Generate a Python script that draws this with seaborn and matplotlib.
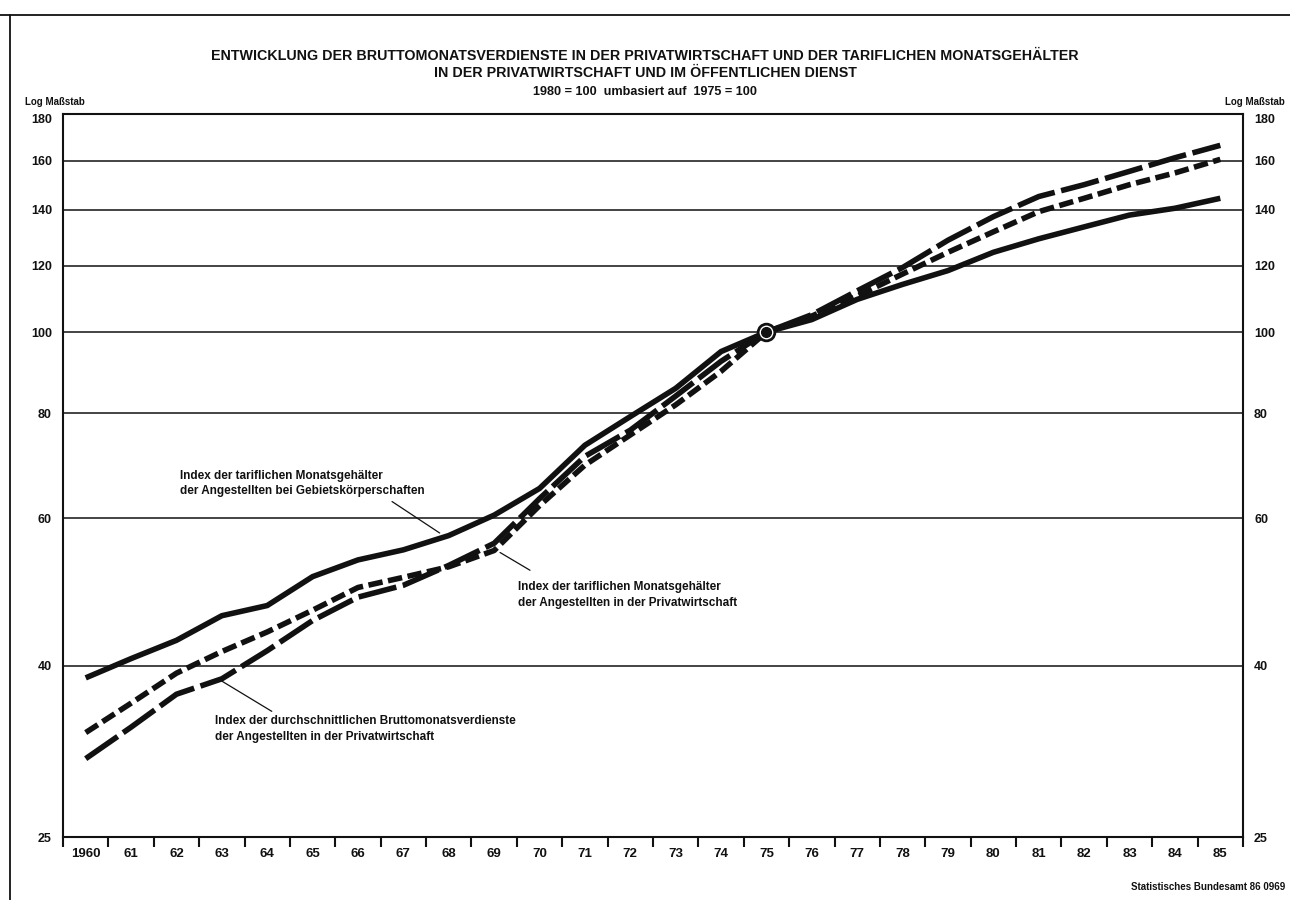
import matplotlib
matplotlib.use("Agg")
import numpy as np
import pandas as pd
import matplotlib.pyplot as plt
import seaborn as sns
from matplotlib.ticker import FixedLocator, NullLocator
from matplotlib.lines import Line2D

# ---- data -------------------------------------------------------------
years = list(range(1960, 1986))
year_labels = ["1960"] + [f"{y % 100:02d}" for y in years[1:]]

# Index der tariflichen Monatsgehälter der Angestellten bei Gebietskörperschaften
gebiet = [38.7, 40.8, 42.9, 45.9, 47.2, 51.1, 53.5, 55.0, 57.2, 60.5,
          65.1, 73.3, 79.3, 85.7, 94.8, 100.0, 103.5, 109.4, 114.0, 118.4,
          124.5, 129.2, 133.5, 137.9, 140.5, 144.4]
# Index der tariflichen Monatsgehälter der Angestellten in der Privatwirtschaft
tarif_privat = [33.3, 36.1, 39.2, 41.6, 43.9, 46.6, 49.6, 51.0, 52.5, 54.9,
                62.1, 69.4, 75.4, 81.9, 89.8, 100.0, 104.5, 110.4, 117.3, 124.5,
                131.7, 139.2, 144.4, 149.9, 154.8, 160.7]
# Index der durchschnittlichen Bruttomonatsverdienste der Angestellten
brutto_privat = [31.0, 33.8, 37.0, 38.6, 41.7, 45.3, 48.3, 49.9, 52.7, 56.0,
                 63.3, 71.1, 76.4, 83.9, 92.3, 100.0, 104.9, 112.0, 119.4, 128.7,
                 137.3, 145.1, 149.9, 155.5, 161.4, 167.0]

y_ticks = [25, 40, 60, 80, 100, 120, 140, 160, 180]
base_year, base_value = 1975, 100

# ---- style ------------------------------------------------------------
sns.set_theme(style="white")
plt.rcParams["font.family"] = ["Liberation Sans", "DejaVu Sans"]
plt.rcParams["font.weight"] = "bold"
INK = "#111111"

df = pd.DataFrame({
    "Jahr": years * 3,
    "Index": gebiet + tarif_privat + brutto_privat,
    "Reihe": ["gebiet"] * len(years) + ["tarif"] * len(years) + ["brutto"] * len(years),
})

fig = plt.figure(figsize=(12.9, 9), dpi=100)
fig.patch.set_facecolor("white")
ax = fig.add_axes([63 / 1290, 1 - 837 / 900, (1243 - 63) / 1290, (837 - 114) / 900])

ax.set_yscale("log")
sns.lineplot(
    data=df, x="Jahr", y="Index", style="Reihe",
    dashes={"gebiet": "", "tarif": (2.6, 1.0), "brutto": (7.0, 1.2)},
    color=INK, linewidth=4.0, legend=False, ax=ax, sort=False,
)
for ln in ax.lines:
    ln.set_dash_capstyle("butt")
    ln.set_solid_capstyle("butt")
    ln.set_zorder(3)

# base point 1975 = 100
ax.plot([base_year], [base_value], marker="o", ms=12, mfc="white",
        mec=INK, mew=2.0, zorder=6, linestyle="none")
ax.plot([base_year], [base_value], marker="o", ms=7, mfc=INK,
        mec=INK, zorder=7, linestyle="none")

# ---- axes -------------------------------------------------------------
ax.set_xlim(1959.5, 1985.5)
ax.set_ylim(25, 182)
ax.yaxis.set_major_locator(FixedLocator(y_ticks))
ax.yaxis.set_minor_locator(NullLocator())
ax.set_yticklabels([str(v) for v in y_ticks])
ax.set_xticks(years)
ax.set_xticklabels(year_labels)
ax.xaxis.set_minor_locator(FixedLocator(np.arange(1959.5, 1986.0, 1.0)))
ax.set_xlabel("")
ax.set_ylabel("")

ax.tick_params(axis="y", which="both", left=False, right=False,
               labelleft=True, labelright=True, length=0, pad=8,
               labelsize=9, colors=INK)
ax.tick_params(axis="x", which="major", length=0, pad=8, labelsize=9.5,
               colors=INK)
ax.tick_params(axis="x", which="minor", bottom=True, length=7, width=1.5,
               direction="out", color=INK)

for lab in ax.get_xticklabels() + ax.get_yticklabels():
    lab.set_fontweight("bold")

for s in ax.spines.values():
    s.set_color(INK)
    s.set_linewidth(1.5)

for v in y_ticks[1:-1]:
    ax.axhline(v, color=INK, lw=1.1, zorder=1)

# ---- series labels with leader lines ------------------------------------
lab_kw = dict(fontsize=8.5, fontweight="bold", color=INK, va="top", ha="left",
              linespacing=1.4)
ax.text(1962.07, 68.5,
        "Index der tariflichen Monatsgehälter\nder Angestellten bei Gebietskörperschaften",
        **lab_kw)
ax.plot([1966.75, 1967.8], [62.8, 57.6], color=INK, lw=0.9, zorder=2)

ax.text(1969.52, 50.5,
        "Index der tariflichen Monatsgehälter\nder Angestellten in der Privatwirtschaft",
        **lab_kw)
ax.plot([1969.79, 1969.13], [52.0, 54.6], color=INK, lw=0.9, zorder=2)

ax.text(1962.84, 34.9,
        "Index der durchschnittlichen Bruttomonatsverdienste\nder Angestellten in der Privatwirtschaft",
        **lab_kw)
ax.plot([1964.1, 1962.95], [35.3, 38.5], color=INK, lw=0.9, zorder=2)

# ---- titles and notes -------------------------------------------------
fig.text(0.5, 1 - 56 / 900,
         "ENTWICKLUNG DER BRUTTOMONATSVERDIENSTE IN DER PRIVATWIRTSCHAFT UND DER TARIFLICHEN MONATSGEHÄLTER",
         ha="center", va="center", fontsize=10.3, fontweight="bold", color=INK)
fig.text(0.5, 1 - 73 / 900,
         "IN DER PRIVATWIRTSCHAFT UND IM ÖFFENTLICHEN DIENST",
         ha="center", va="center", fontsize=10.3, fontweight="bold", color=INK)
fig.text(0.5, 1 - 92 / 900, "1980 = 100  umbasiert auf  1975 = 100",
         ha="center", va="center", fontsize=9.1, fontweight="bold", color=INK)
fig.text(25 / 1290, 1 - 102 / 900, "Log Maßstab", ha="left", va="center",
         fontsize=7, fontweight="bold", color=INK)
fig.text(1285 / 1290, 1 - 102 / 900, "Log Maßstab", ha="right", va="center",
         fontsize=7, fontweight="bold", color=INK)
fig.text(1285 / 1290, 1 - 887 / 900, "Statistisches Bundesamt 86 0969",
         ha="right", va="center", fontsize=7, fontweight="bold", color=INK)

# page frame
fig.add_artist(Line2D([0, 1], [1 - 15 / 900] * 2, transform=fig.transFigure,
                      color=INK, lw=1.3))
fig.add_artist(Line2D([10 / 1290] * 2, [0, 1 - 15 / 900],
                      transform=fig.transFigure, color=INK, lw=1.3))

fig.savefig("out.png", dpi=100, facecolor="white")
